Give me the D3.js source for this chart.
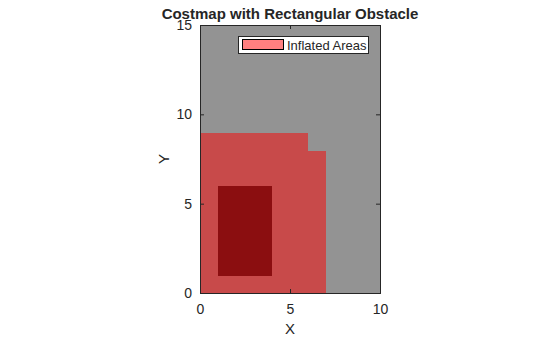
<!DOCTYPE html>
<html><head><meta charset="utf-8">
<script src="https://cdn.jsdelivr.net/npm/d3@7"></script>
<style>body{margin:0;background:#fff;}svg{display:block;font-family:"Liberation Sans",Arial,sans-serif;}</style>
</head><body><svg id="c" width="560" height="337"></svg>
<script>
const title = "Costmap with Rectangular Obstacle";
const xTicks = [0, 5, 10];
const yTicks = [0, 5, 10, 15];
// cell values per row (row 0 = y 0..1), 10 columns: 0 free, 1 inflated, 2 obstacle
const gridRows = [
  [1,1,1,1,1,1,1,0,0,0],
  [1,2,2,2,1,1,1,0,0,0],
  [1,2,2,2,1,1,1,0,0,0],
  [1,2,2,2,1,1,1,0,0,0],
  [1,2,2,2,1,1,1,0,0,0],
  [1,2,2,2,1,1,1,0,0,0],
  [1,1,1,1,1,1,1,0,0,0],
  [1,1,1,1,1,1,1,0,0,0],
  [1,1,1,1,1,1,0,0,0,0],
  [0,0,0,0,0,0,0,0,0,0],
  [0,0,0,0,0,0,0,0,0,0],
  [0,0,0,0,0,0,0,0,0,0],
  [0,0,0,0,0,0,0,0,0,0],
  [0,0,0,0,0,0,0,0,0,0],
  [0,0,0,0,0,0,0,0,0,0]
];
const cellColors = ["#939393", "#c84a4a", "#8b0e10"];
const legendLabel = "Inflated Areas";
const legendColor = "#ff8080";

const svg = d3.select("#c");
const x = d3.scaleLinear().domain([0,10]).range([200,380]);
const y = d3.scaleLinear().domain([0,15]).range([293,25]);

const cells = [];
gridRows.forEach((row, j) => row.forEach((v, i) => cells.push({i, j, v})));
svg.append("g").selectAll("rect").data(cells).join("rect")
  .attr("x", d => x(d.i)).attr("y", d => y(d.j+1))
  .attr("width", d => x(d.i+1)-x(d.i)+0.5).attr("height", d => y(d.j)-y(d.j+1)+0.5)
  .attr("fill", d => cellColors[d.v]).attr("shape-rendering","crispEdges");

const col = "#262626";
const xa = svg.append("g").attr("transform","translate(0,293)")
  .call(d3.axisBottom(x).tickValues(xTicks).tickSize(-4).tickPadding(11));
const xt = svg.append("g").attr("transform","translate(0,25)")
  .call(d3.axisTop(x).tickValues(xTicks).tickSize(-4).tickFormat(""));
const ya = svg.append("g").attr("transform","translate(200,0)")
  .call(d3.axisLeft(y).tickValues(yTicks).tickSize(-4).tickPadding(8));
const yr = svg.append("g").attr("transform","translate(380,0)")
  .call(d3.axisRight(y).tickValues(yTicks).tickSize(-4).tickFormat(""));
[xa,xt,ya,yr].forEach(g => {
  g.selectAll("path").attr("stroke", col).attr("stroke-width",1);
  g.selectAll("line").attr("stroke", col);
  g.selectAll("text").attr("fill", col).style("font-size","14px").style("font-family","Liberation Sans, Arial, sans-serif");
});

svg.append("text").attr("x",290).attr("y",19).attr("text-anchor","middle")
  .style("font-weight","bold").style("font-size","15px").attr("fill",col).text(title);
svg.append("text").attr("x",290).attr("y",334).attr("text-anchor","middle")
  .style("font-size","15px").attr("fill",col).text("X");
svg.append("text").attr("transform","translate(169,159) rotate(-90)").attr("text-anchor","middle")
  .style("font-size","15px").attr("fill",col).text("Y");

const lg = svg.append("g");
lg.append("rect").attr("x",238.5).attr("y",36.5).attr("width",130).attr("height",17)
  .attr("fill","#fff").attr("stroke","#262626");
lg.append("rect").attr("x",242.5).attr("y",39.5).attr("width",41).attr("height",10)
  .attr("fill",legendColor).attr("stroke","#000");
lg.append("text").attr("x",287).attr("y",49.5).style("font-size","13px").attr("fill",col).text(legendLabel);
</script></body></html>
